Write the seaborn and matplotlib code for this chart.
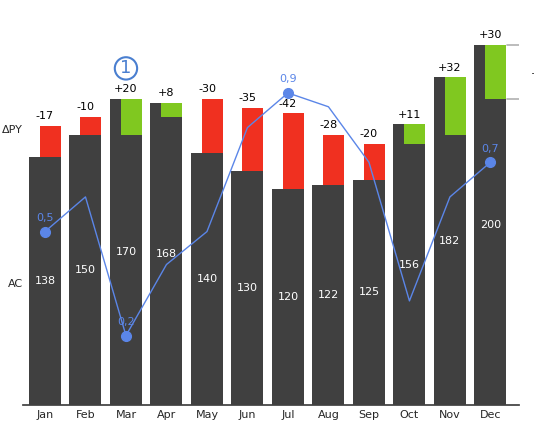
import matplotlib
matplotlib.use("Agg")
import matplotlib.pyplot as plt
import seaborn as sns
import numpy as np
import pandas as pd

months = ["Jan","Feb","Mar","Apr","May","Jun","Jul","Aug","Sep","Oct","Nov","Dec"]
ac = [138,150,170,168,140,130,120,122,125,156,182,200]
dpy = [-17,-10,20,8,-30,-35,-42,-28,-20,11,32,30]
ratio = [0.5,0.6,0.2,0.405,0.5,0.8,0.9,0.86,0.7,0.3,0.6,0.7]
ratio_labels = {0:"0,5",2:"0,2",6:"0,9",11:"0,7"}

sns.set_theme(style="white")
plt.rcParams['font.family'] = ['DejaVu Sans']
fig = plt.figure(figsize=(5.34,4.24), dpi=100)
ax = fig.add_axes([0.0425, 0.045, 0.929, 0.955])
df = pd.DataFrame({"m":months,"ac":ac})
sns.barplot(data=df, x="m", y="ac", color="#404040", width=0.79, ax=ax,
            saturation=1, linewidth=0, edgecolor="none")
x = np.arange(12)
for i,(a,d) in enumerate(zip(ac,dpy)):
    bottom = a if d<0 else a-d
    col = "#f03020" if d<0 else "#80c820"
    ax.bar(x[i]+0.135, abs(d), bottom=bottom, width=0.52, color=col, zorder=3, linewidth=0)
    top = max(a, a-d)
    ax.text(x[i], top+2.5, f"{d:+d}", ha="center", va="bottom", fontsize=8, color="black")
    ax.text(x[i], a/2, str(a), ha="center", va="center", fontsize=8, color="white", zorder=4)
# Dec annotation
ax.plot([11.4,11.85],[200,200],color="#b0b0b0",lw=1.2,zorder=4)
ax.plot([11.4,11.85],[170,170],color="#b0b0b0",lw=1.2,zorder=4)
ax.annotate("", xy=(11.85,201), xytext=(11.85,170), arrowprops=dict(arrowstyle="-|>",color="#80c820",lw=1.5),zorder=5)
ax.text(12.0,184,"+18%",fontsize=7.5,style="italic",va="center",clip_on=False)
ax.set_ylim(0,225)
ax.set_xlim(-0.55,11.7)
ax.set_xlabel(""); ax.set_ylabel("")
ax.set_yticks([])
ax.tick_params(axis="x", length=0, labelsize=8)
for s in ["top","right","left"]:
    ax.spines[s].set_visible(False)
ax.spines["bottom"].set_color("#404040")
ax.text(-0.55,153,"ΔPY",ha="right",va="center",fontsize=8,clip_on=False)
ax.text(-0.55,67,"AC",ha="right",va="center",fontsize=8,clip_on=False)
ax.text(2,187,"1",ha="center",va="center",fontsize=13,color="#4a7fd0",
        bbox=dict(boxstyle="circle,pad=0.12",fc="white",ec="#4a7fd0",lw=1.5))
ax2 = ax.twinx()
ax2.set_position(ax.get_position())
ax2.set_ylim(0,1.168)
ax2.plot(x, ratio, color="#5b86e8", lw=1)
for i,l in ratio_labels.items():
    ax2.plot(x[i], ratio[i], "o", color="#5b86e8", ms=7)
    ax2.text(x[i], ratio[i]+0.025, l, ha="center", va="bottom", fontsize=8, color="#5b86e8")
ax2.set_yticks([])
for s in ax2.spines.values(): s.set_visible(False)
fig.savefig("out.png", dpi=100)
